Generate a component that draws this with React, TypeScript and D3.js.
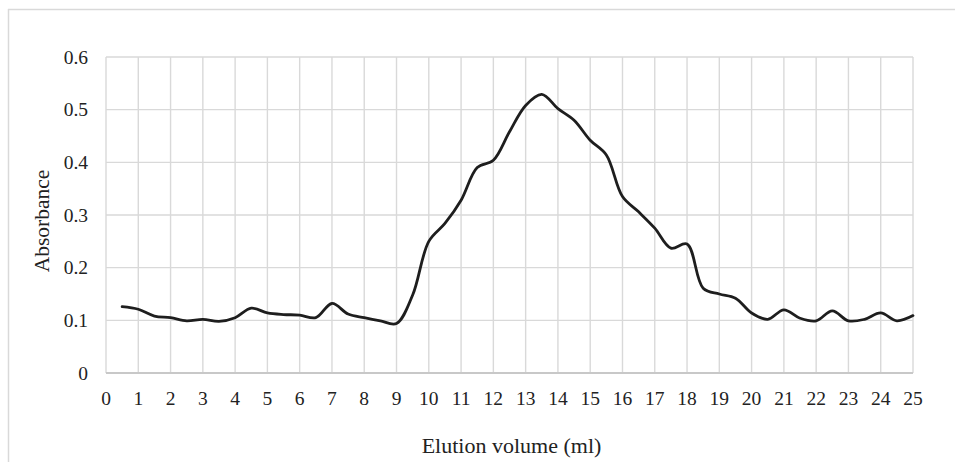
import React from "react";
import * as d3 from "d3";

const volume = [0.5, 1, 1.5, 2, 2.5, 3, 3.5, 4, 4.5, 5, 5.5, 6, 6.5, 7, 7.5, 8, 8.5, 9, 9.5, 10, 10.5, 11, 11.5, 12, 12.5, 13, 13.5, 14, 14.5, 15, 15.5, 16, 16.5, 17, 17.5, 18, 18.5, 19, 19.5, 20, 20.5, 21, 21.5, 22, 22.5, 23, 23.5, 24, 24.5, 25];
const absorbance = [0.126, 0.121, 0.108, 0.105, 0.099, 0.102, 0.098, 0.105, 0.123, 0.114, 0.111, 0.110, 0.105, 0.132, 0.112, 0.105, 0.099, 0.094, 0.148, 0.250, 0.284, 0.328, 0.390, 0.404, 0.458, 0.508, 0.529, 0.502, 0.480, 0.442, 0.414, 0.335, 0.306, 0.275, 0.237, 0.245, 0.161, 0.150, 0.142, 0.114, 0.102, 0.120, 0.104, 0.099, 0.118, 0.099, 0.102, 0.114, 0.099, 0.109];
const xTicks = [0, 1, 2, 3, 4, 5, 6, 7, 8, 9, 10, 11, 12, 13, 14, 15, 16, 17, 18, 19, 20, 21, 22, 23, 24, 25];
const yTicks = [0, 0.1, 0.2, 0.3, 0.4, 0.5, 0.6];
const xTitle = "Elution volume (ml)";
const yTitle = "Absorbance";

const W = 957;
const H = 462;
const L = 106, R = 913, T = 57, B = 373;
const FONT = "'Liberation Serif', 'Times New Roman', serif";

export default function App() {
  const x = d3.scaleLinear().domain([0, 25]).range([L, R]);
  const y = d3.scaleLinear().domain([0, 0.6]).range([B, T]);
  const pts: [number, number][] = volume.map((v, i) => [v, absorbance[i]]);
  const line = d3
    .line<[number, number]>()
    .x((d) => x(d[0]))
    .y((d) => y(d[1]))
    .curve(d3.curveCatmullRom.alpha(0.5));
  const grid = "#d9d9d9";
  return (
    <svg width={W} height={H} style={{ position: "absolute", left: 0, top: 0, background: "#fff" }}>
      <line x1={8.5} x2={8.5} y1={9} y2={H} stroke={grid} strokeWidth={1.5} />
      <line x1={8} x2={955} y1={9.5} y2={9.5} stroke={grid} strokeWidth={1.5} />
      {xTicks.map((t) => (
        <line key={"gx" + t} x1={x(t)} x2={x(t)} y1={T} y2={B} stroke={grid} strokeWidth={1.4} />
      ))}
      {yTicks.map((t) => (
        <line key={"gy" + t} x1={L} x2={R} y1={y(t)} y2={y(t)} stroke={grid} strokeWidth={1.4} />
      ))}
      <line x1={L} x2={R} y1={B} y2={B} stroke="#c8c8c8" strokeWidth={1.8} />
      {xTicks.map((t) => (
        <text key={"tx" + t} x={x(t)} y={405} textAnchor="middle" fontFamily={FONT} fontSize={19.5} fill="#222">
          {t}
        </text>
      ))}
      {yTicks.map((t) => (
        <text key={"ty" + t} x={88} y={y(t) + 6.5} textAnchor="end" fontFamily={FONT} fontSize={19.5} fill="#222">
          {d3.format("")(t)}
        </text>
      ))}
      <path d={line(pts) || ""} fill="none" stroke="#1e1e1e" strokeWidth={2.8} strokeLinejoin="round" strokeLinecap="round" />
      <text x={(L + R) / 2 + 2} y={453} textAnchor="middle" fontFamily={FONT} fontSize={22} fill="#222">
        {xTitle}
      </text>
      <text transform={`translate(49,${221}) rotate(-90)`} textAnchor="middle" fontFamily={FONT} fontSize={21.5} fill="#222">
        {yTitle}
      </text>
    </svg>
  );
}
